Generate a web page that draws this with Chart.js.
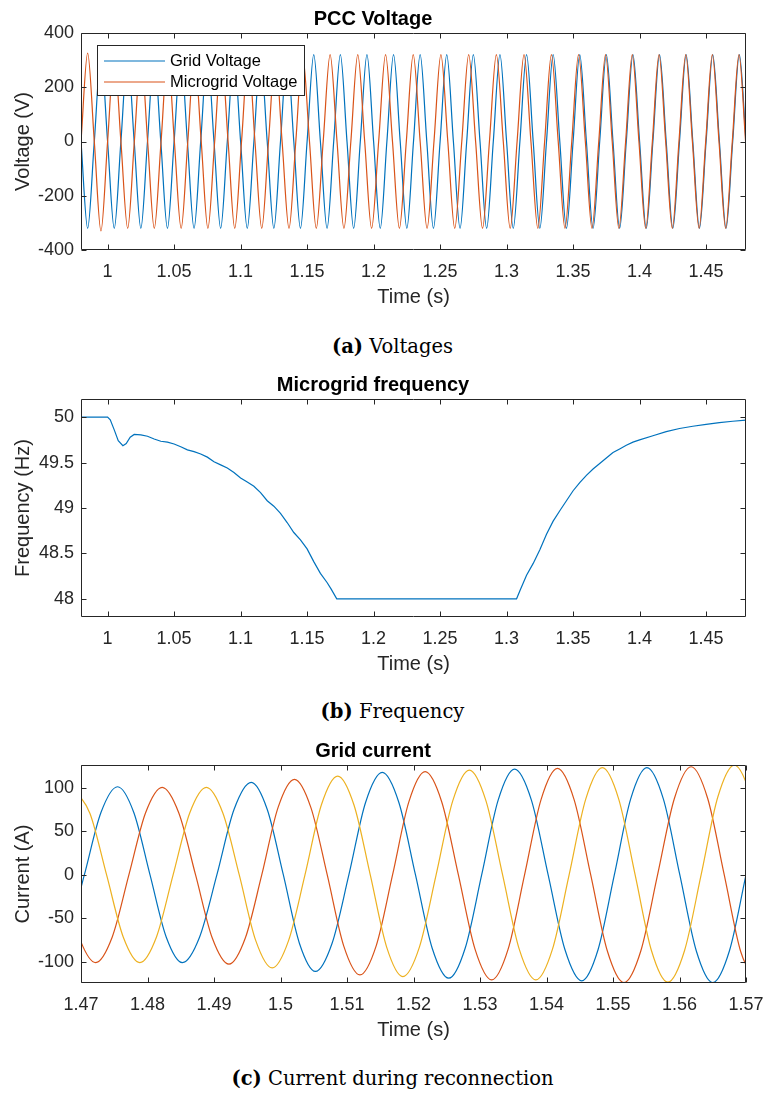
<!DOCTYPE html>
<html>
<head>
<meta charset="utf-8">
<script src="https://cdn.jsdelivr.net/npm/chart.js@4/dist/chart.umd.min.js"></script>
<style>
  html,body{margin:0;padding:0;background:#fff;}
  body{position:relative;width:764px;height:1093px;overflow:hidden;}
  canvas{position:absolute;left:0;}
  .cap{position:absolute;left:0;width:785px;text-align:center;font-family:"DejaVu Serif",serif;font-size:19.5px;line-height:1;color:#000;white-space:nowrap;}
  .cap b{font-weight:bold;}
</style>
</head>
<body>
<canvas id="c1" width="764" height="312" style="top:0px"></canvas>
<div class="cap" style="top:337px"><b>(a)</b> Voltages</div>
<canvas id="c2" width="764" height="313" style="top:366px"></canvas>
<div class="cap" style="top:702px"><b>(b)</b> Frequency</div>
<canvas id="c3" width="764" height="313" style="top:732px"></canvas>
<div class="cap" style="top:1069px"><b>(c)</b> Current during reconnection</div>
<script>
// ---------------- DATA ----------------
// (a) PCC voltage: times (s) of zero crossings / peaks read from the plot, and values (V)
const gridVoltT = [0.98,0.985,0.99,0.995,1.0,1.005,1.01,1.015,1.02,1.025,1.03,1.035,1.04,1.045,1.05,1.055,1.06,1.065,1.07,1.075,
  1.08,1.085,1.09,1.095,1.1,1.105,1.11,1.115,1.12,1.125,1.13,1.135,1.14,1.145,1.15,1.155,1.16,1.165,1.17,1.175,
  1.18,1.185,1.19,1.195,1.2,1.205,1.21,1.215,1.22,1.225,1.23,1.235,1.24,1.245,1.25,1.255,1.26,1.265,1.27,1.275,
  1.28,1.285,1.29,1.295,1.3,1.305,1.31,1.315,1.32,1.325,1.33,1.335,1.34,1.345,1.35,1.355,1.36,1.365,1.37,1.375,
  1.38,1.385,1.39,1.395,1.4,1.405,1.41,1.415,1.42,1.425,1.43,1.435,1.44,1.445,1.45,1.455,1.46,1.465,1.47,1.475,1.48];
const gridVoltV = [0,-320,0,320,0,-320,0,320,0,-320, 0,320,0,-320,0,320,0,-320,0,320,
  0,-320,0,320,0,-320,0,320,0,-320, 0,320,0,-320,0,320,0,-320,0,320,
  0,-320,0,320,0,-320,0,320,0,-320, 0,320,0,-320,0,320,0,-320,0,320,
  0,-320,0,320,0,-320,0,320,0,-320, 0,320,0,-320,0,320,0,-320,0,320,
  0,-320,0,320,0,-320,0,320,0,-320, 0,320,0,-320,0,320,0,-320,0,320, 0];
const microVoltT = [0.98,0.985,0.99,0.995,1.0,1.005,1.01,1.0151,1.0201,1.0251,
  1.0301,1.0351,1.0402,1.0452,1.0502,1.0553,1.0603,1.0653,1.0704,1.0754,
  1.0805,1.0855,1.0906,1.0956,1.1007,1.1058,1.1108,1.1159,1.121,1.1261,
  1.1312,1.1364,1.1415,1.1466,1.1518,1.1569,1.1621,1.1673,1.1725,1.1777,
  1.1829,1.1881,1.1933,1.1985,1.2038,1.209,1.2142,1.2194,1.2246,1.2298,
  1.235,1.2402,1.2454,1.2506,1.2558,1.261,1.2663,1.2715,1.2767,1.2819,
  1.2871,1.2923,1.2975,1.3027,1.3079,1.3131,1.3183,1.3235,1.3286,1.3337,
  1.3388,1.3439,1.349,1.3541,1.3592,1.3642,1.3693,1.3744,1.3794,1.3844,
  1.3895,1.3945,1.3995,1.4046,1.4096,1.4146,1.4196,1.4246,1.4296,1.4347,
  1.4397,1.4447,1.4497,1.4547,1.4597,1.4647,1.4697,1.4747,1.4797,1.4847];
const microVoltV = [0,326,0,-330,0,322,0,-320,0,320,
  0,-320,0,320,0,-320,0,320,0,-320,
  0,320,0,-320,0,320,0,-320,0,320,
  0,-320,0,320,0,-320,0,320,0,-320,
  0,320,0,-320,0,320,0,-320,0,320,
  0,-320,0,320,0,-320,0,320,0,-320,
  0,320,0,-320,0,320,0,-320,0,320,
  0,-320,0,320,0,-320,0,320,0,-320,
  0,320,0,-320,0,320,0,-320,0,320,
  0,-320,0,320,0,-320,0,320,0,-320];

// (b) Microgrid frequency (s, Hz)
const freqT = [0.98,1.0,1.002,1.005,1.008,1.0115,1.014,1.017,1.02,1.025,1.03,1.035,1.04,1.045,1.05,1.055,1.06,1.065,1.07,1.075,
  1.08,1.085,1.09,1.095,1.1,1.105,1.11,1.115,1.12,1.125,1.13,1.135,1.14,1.145,1.15,1.155,1.16,1.165,1.168,1.1723,
  1.3075,1.31,1.315,1.32,1.325,1.33,1.335,1.34,1.345,1.35,1.355,1.36,1.365,1.37,1.375,1.38,1.385,1.39,1.395,1.4,
  1.41,1.42,1.43,1.44,1.45,1.46,1.47,1.48];
const freqV = [50,50,49.97,49.86,49.74,49.685,49.71,49.78,49.81,49.805,49.79,49.76,49.735,49.725,49.705,49.675,49.64,49.62,49.595,49.56,
  49.51,49.475,49.44,49.39,49.33,49.285,49.24,49.17,49.08,49.02,48.94,48.84,48.73,48.65,48.55,48.41,48.28,48.18,48.11,48.0,
  48.0,48.09,48.26,48.39,48.54,48.71,48.855,48.97,49.08,49.19,49.28,49.36,49.43,49.49,49.55,49.61,49.65,49.69,49.725,49.75,
  49.795,49.84,49.875,49.9,49.92,49.94,49.955,49.967];

// (c) Grid current, three phases (s, A)
const phaseAT = [1.4655,1.468,1.4705,1.473,1.4755,1.47794,1.48038,1.48281,1.48525,1.48784,1.49043,1.49301,1.4956,1.49801,1.50043,1.50284,
  1.50525,1.50776,1.51028,1.51279,1.5153,1.5178,1.5203,1.5228,1.5253,1.52778,1.53025,1.53273,1.5352,1.53773,1.54025,1.54278,
  1.5453,1.54775,1.5502,1.55265,1.5551,1.55758,1.56005,1.56253,1.565,1.5675,1.57,1.5725,1.575];
const phaseAV = [-100,-70.7,0,71.8,101.5,71.8,0,-71.3,-100.8,-71.3,0,75.3,106.5,75.3,0,-78.5,
  -111,-78.5,0,83.4,118,83.4,0,-84,-118.8,-84,0,86.1,121.8,86.1,0,-86.1,
  -121.8,-86.1,0,87.2,123.4,87.2,0,-87.5,-123.8,-87.5,0,87.7,124];
const phaseBT = [1.4622,1.4647,1.4672,1.4697,1.4722,1.4747,1.4772,1.4797,1.4822,1.48471,1.48723,1.48974,1.49225,1.49471,1.49718,1.49964,
  1.5021,1.50456,1.50703,1.50949,1.51195,1.5144,1.51685,1.5193,1.52175,1.52425,1.52675,1.52925,1.53175,1.53423,1.5367,1.53918,
  1.54165,1.54415,1.54665,1.54915,1.55165,1.55418,1.5567,1.55923,1.56175,1.56424,1.56673,1.56921,1.5717];
const phaseBV = [100,70.7,0,-71.3,-100.8,-71.3,0,71.3,100.8,71.3,0,-72.6,-102.7,-72.6,0,77.8,
  110,77.8,0,-81.3,-115,-81.3,0,84,118.8,84,0,-85.3,-120.7,-85.3,0,86.7,
  122.6,86.7,0,-87.5,-123.8,-87.5,0,88,124.5,88,0,-88.4,-125];
const phaseCT = [1.46885,1.47135,1.47385,1.47635,1.47885,1.48135,1.48385,1.48635,1.48885,1.49133,1.4938,1.49628,1.49875,1.50121,1.50368,1.50614,
  1.5086,1.51105,1.5135,1.51595,1.5184,1.5209,1.5234,1.5259,1.5284,1.5309,1.5334,1.5359,1.5384,1.5409,1.5434,1.5459,
  1.5484,1.55086,1.55333,1.55579,1.55825,1.56075,1.56325,1.56575,1.56825,1.57075,1.57325];
const phaseCV = [100,70.7,0,-71.3,-100.8,-71.3,0,71.3,100.8,71.3,0,-75.6,-107,-75.6,0,80.5,
  113.8,80.5,0,-82.7,-116.9,-82.7,0,85.3,120.7,85.3,0,-85.3,-120.7,-85.3,0,87.2,
  123.4,87.2,0,-87.2,-123.4,-87.2,0,89.4,126.4,89.4,0];

// Tick labels
const timeTicksAB = [1,1.05,1.1,1.15,1.2,1.25,1.3,1.35,1.4,1.45];
const voltTicks = [-400,-200,0,200,400];
const freqTicks = [48,48.5,49,49.5,50];
const timeTicksC = [1.47,1.48,1.49,1.5,1.51,1.52,1.53,1.54,1.55,1.56,1.57];
const currTicks = [-100,-50,0,50,100];

// ---------------- RENDERING ----------------
Chart.defaults.font.family = '"Liberation Sans", Arial, Helvetica, sans-serif';
const BLUE = '#0072BD', ORANGE = '#D95319', YELLOW = '#EDB120', AXC = '#262626';
const fmt = v => String(Math.round(v * 10000) / 10000);
const zip = (xs, ys) => xs.map((x, i) => ({x: x, y: ys[i]}));

const matlabAxes = {
  id: 'matlabAxes',
  afterDatasetsDraw(chart) {
    const {ctx, chartArea: a, scales} = chart;
    const L = Math.round(a.left) + 0.5, R = Math.round(a.right) - 0.5;
    const T = Math.round(a.top) + 0.5, B = Math.round(a.bottom) - 0.5;
    const tl = 5;
    ctx.save();
    ctx.strokeStyle = AXC; ctx.lineWidth = 1;
    ctx.beginPath();
    ctx.rect(L, T, R - L, B - T);
    for (const t of scales.x.ticks) {
      const x = Math.round(scales.x.getPixelForValue(t.value)) + 0.5;
      ctx.moveTo(x, B); ctx.lineTo(x, B - tl);
      ctx.moveTo(x, T); ctx.lineTo(x, T + tl);
    }
    for (const t of scales.y.ticks) {
      const y = Math.round(scales.y.getPixelForValue(t.value)) + 0.5;
      ctx.moveTo(L, y); ctx.lineTo(L + tl, y);
      ctx.moveTo(R, y); ctx.lineTo(R - tl, y);
    }
    ctx.stroke();
    ctx.restore();
  }
};

const boxLegend = {
  id: 'boxLegend',
  afterDraw(chart) {
    const {ctx, chartArea: a} = chart;
    const x0 = Math.round(a.left) + 16, y0 = Math.round(a.top) + 12, w = 207, h = 50;
    ctx.save();
    ctx.fillStyle = '#fff';
    ctx.fillRect(x0, y0, w, h);
    ctx.strokeStyle = AXC; ctx.lineWidth = 1;
    ctx.strokeRect(x0 + 0.5, y0 + 0.5, w, h);
    ctx.font = '16.5px "Liberation Sans", Arial, sans-serif';
    ctx.textBaseline = 'middle'; ctx.textAlign = 'left';
    chart.data.datasets.forEach((ds, i) => {
      const y = y0 + 16 + i * 21;
      ctx.strokeStyle = ds.borderColor; ctx.lineWidth = 1.2;
      ctx.beginPath(); ctx.moveTo(x0 + 7, y); ctx.lineTo(x0 + 68, y); ctx.stroke();
      ctx.fillStyle = '#000';
      ctx.fillText(ds.label, x0 + 73, y);
    });
    ctx.restore();
  }
};

function xAxis(min, max, ticks, title) {
  return {
    type: 'linear', position: 'bottom', min: min, max: max, bounds: 'data',
    grid: {display: false, drawTicks: false, tickLength: 0},
    border: {display: false},
    afterBuildTicks: s => { s.ticks = ticks.map(v => ({value: v})); },
    afterFit: s => { s.height = 62; s.paddingLeft = 0; s.paddingRight = 0; },
    ticks: {padding: 11.5, color: AXC, font: {size: 18}, autoSkip: false, maxRotation: 0, minRotation: 0,
            callback: v => fmt(v)},
    title: {display: true, text: title, color: AXC, font: {size: 20}, padding: {top: 0, bottom: 2.5}}
  };
}
function yAxis(min, max, ticks, title) {
  return {
    type: 'linear', position: 'left', min: min, max: max, bounds: 'data',
    grid: {display: false, drawTicks: false, tickLength: 0},
    border: {display: false},
    afterBuildTicks: s => { s.ticks = ticks.map(v => ({value: v})); },
    afterFit: s => { s.width = 81; s.paddingTop = 0; s.paddingBottom = 0; },
    ticks: {padding: 7, color: AXC, font: {size: 18}, autoSkip: false, callback: v => fmt(v)},
    title: {display: true, text: title, color: AXC, font: {size: 20}, padding: {top: 11, bottom: 0}}
  };
}
function lineDs(label, xs, ys, color, order, smooth) {
  return {
    label: label, data: zip(xs, ys), borderColor: color, backgroundColor: color,
    borderWidth: 1.2, pointRadius: 0, fill: false, order: order, clip: 0,
    cubicInterpolationMode: smooth ? 'monotone' : 'default', tension: 0
  };
}
function makeChart(id, title, datasets, xs, ys, extraPlugins) {
  return new Chart(document.getElementById(id), {
    type: 'line',
    data: {datasets: datasets},
    options: {
      responsive: false, animation: false, devicePixelRatio: 1,
      layout: {padding: {left: 0, right: 18, top: 0, bottom: 0}},
      plugins: {
        legend: {display: false}, tooltip: {enabled: false},
        title: {display: true, text: title, color: '#000',
                font: {size: 20, weight: 'bold'}, padding: {top: 7, bottom: 2}}
      },
      scales: {x: xs, y: ys}
    },
    plugins: [matlabAxes].concat(extraPlugins || [])
  });
}

makeChart('c1', 'PCC Voltage', [
  lineDs('Grid Voltage', gridVoltT, gridVoltV, BLUE, 1, true),
  lineDs('Microgrid Voltage', microVoltT, microVoltV, ORANGE, 0, true)
], xAxis(0.98, 1.48, timeTicksAB, 'Time (s)'), yAxis(-400, 400, voltTicks, 'Voltage (V)'), [boxLegend]);

makeChart('c2', 'Microgrid frequency', [
  lineDs('Frequency', freqT, freqV, BLUE, 0, false)
], xAxis(0.98, 1.48, timeTicksAB, 'Time (s)'), yAxis(47.8, 50.2, freqTicks, 'Frequency (Hz)'));

makeChart('c3', 'Grid current', [
  lineDs('Phase a', phaseAT, phaseAV, BLUE, 2, true),
  lineDs('Phase b', phaseBT, phaseBV, ORANGE, 1, true),
  lineDs('Phase c', phaseCT, phaseCV, YELLOW, 0, true)
], xAxis(1.47, 1.57, timeTicksC, 'Time (s)'), yAxis(-124.3, 126.5, currTicks, 'Current (A)'));
</script>
</body>
</html>
